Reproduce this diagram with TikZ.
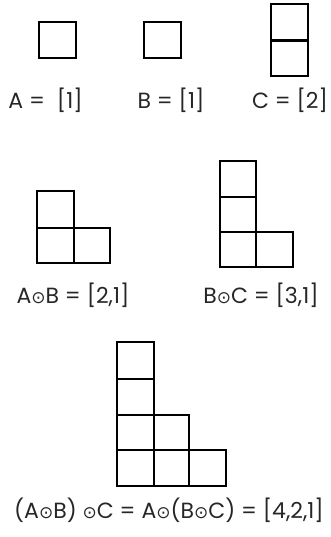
\documentclass[tikz,border=0pt]{standalone}
\usepackage{fontspec}
\setmainfont{Poppins}
\newfontfamily\symfont{DejaVu Sans}
\newcommand{\od}{{\symfont\fontsize{17}{19}\selectfont ⊙}}
\begin{document}
\begin{tikzpicture}[x=1pt,y=-1pt,
  cell/.style={draw=black,line width=2.4pt},
  lab/.style={font=\fontsize{22}{24}\selectfont,text=black!85,inner sep=0pt,anchor=center}]
\useasboundingbox (0,0) rectangle (331,537);
% A
\draw[cell] (39,22) rectangle (76,58);
% B
\draw[cell] (144,22) rectangle (181,58);
% C
\draw[cell] (271,4) rectangle (308,40.5);
\draw[cell] (271,40.5) rectangle (308,76);
\node[lab] (la) at (45.5,100) {A =\; [1]};
\node[lab] (lb) at (171,100) {B = [1]};
\node[lab] (lc) at (290,100) {C = [2]};
% A.B
\draw[cell] (37,191) rectangle (74,228);
\draw[cell] (37,228) rectangle (74,263);
\draw[cell] (74,228) rectangle (110,263);
% B.C
\draw[cell] (220,161) rectangle (256,197);
\draw[cell] (220,197) rectangle (256,232);
\draw[cell] (220,232) rectangle (256,267);
\draw[cell] (256,232) rectangle (293,267);
\node[lab] (lab) at (73,295) {A\od B = [2,1]};
\node[lab] (lbc) at (261,295) {B\od C = [3,1]};
% (A.B).C
\draw[cell] (117,342) rectangle (154,379);
\draw[cell] (117,379) rectangle (154,415);
\draw[cell] (117,415) rectangle (154,450);
\draw[cell] (154,415) rectangle (189,450);
\draw[cell] (117,450) rectangle (154,486);
\draw[cell] (154,450) rectangle (189,486);
\draw[cell] (189,450) rectangle (226,486);
\node[lab] (labc) at (169,510) {(A\od B) \od C = A\od (B\od C) = [4,2,1]};
\end{tikzpicture}
\end{document}
